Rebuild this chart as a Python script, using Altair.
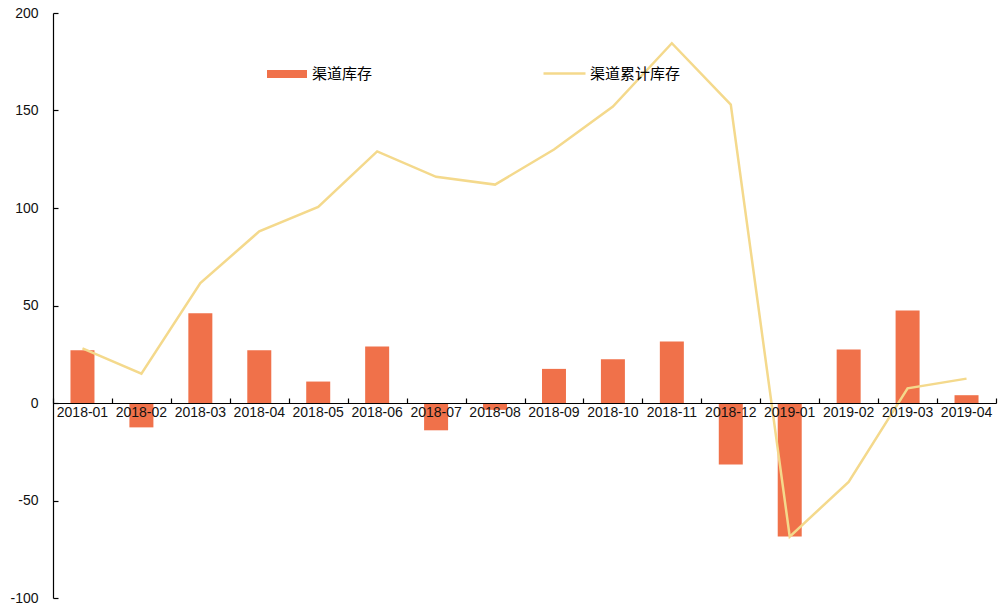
import altair as alt
import pandas as pd

months = ["2018-01", "2018-02", "2018-03", "2018-04", "2018-05", "2018-06", "2018-07", "2018-08",
          "2018-09", "2018-10", "2018-11", "2018-12", "2019-01", "2019-02", "2019-03", "2019-04"]
inventory = [27, -12.5, 46, 27, 11, 29, -14, -3.5, 17.5, 22.5, 31.5, -31.5, -68.5, 27.5, 47.5, 4]
cumulative = [28, 15, 61.5, 88, 100.5, 129, 116, 112, 130, 152, 184.5, 153, -68.5, -40.5, 7.5, 12.5]
y_ticks = [-100, -50, 0, 50, 100, 150, 200]

bar_name = "渠道库存"
line_name = "渠道累计库存"
bar_color = "#F0714A"
line_color = "#F4D98C"

df = pd.DataFrame({"month": months, "inv": inventory, "cum": cumulative,
                   "s1": bar_name, "s2": line_name})

W, H = 943, 585
font = "Liberation Sans"
cjk = "Noto Sans CJK SC"

xscale = alt.Scale(domain=months, paddingInner=0, paddingOuter=0)
yscale = alt.Scale(domain=[-100, 200], nice=False, zero=False)

bars = alt.Chart(df).mark_bar(size=24, color=bar_color).encode(
    x=alt.X("month:N", scale=xscale, sort=months,
            axis=alt.Axis(orient="bottom", offset=-195, title=None, ticks=False, tickSize=0,
                          labelAngle=0, labelFont=font, labelFontSize=14, labelColor="#111",
                          labelPadding=2, domainColor="#000", domainWidth=1.2, zindex=1,
                          labelOverlap=False)),
    y=alt.Y("inv:Q", scale=yscale,
            axis=alt.Axis(orient="left", title=None, values=y_ticks, ticks=False, tickSize=0,
                          labelPadding=15, labelFont=font, labelFontSize=14, labelColor="#111",
                          domainColor="#000", domainWidth=1.2, grid=False,
                          labelExpr="'' + datum.value")),
    fill=alt.Fill("s1:N", scale=alt.Scale(domain=[bar_name], range=[bar_color]),
                  legend=alt.Legend(title=None, orient="none", legendX=214, legendY=41,
                                    padding=0, symbolType="M-1,-0.2H1V0.2H-1Z", symbolSize=1600,
                                    symbolStrokeWidth=0, labelFont=cjk, labelFontSize=15,
                                    labelColor="#000", labelOffset=5)),
)

line = alt.Chart(df).mark_line(color=line_color, strokeWidth=2.5).encode(
    x=alt.X("month:N", scale=xscale, sort=months,
            axis=alt.Axis(orient="top", offset=-390, title=None, labels=False, domain=False,
                          ticks=True, tickSize=5, tickBand="extent", tickColor="#000",
                          tickWidth=1.2)),
    y=alt.Y("cum:Q", scale=yscale,
            axis=alt.Axis(orient="right", offset=-W, title=None, labels=False, domain=False,
                          values=y_ticks, ticks=True, tickSize=5, tickColor="#000",
                          tickWidth=1.2, grid=False)),
    stroke=alt.Stroke("s2:N", scale=alt.Scale(domain=[line_name], range=[line_color]),
                      legend=alt.Legend(title=None, orient="none", legendX=489, legendY=38,
                                        padding=0, symbolType="M-1,0H1", symbolSize=1764,
                                        symbolStrokeWidth=2.5, labelFont=cjk, labelFontSize=15,
                                        labelColor="#000", labelOffset=3)),
)

chart = alt.layer(bars, line).resolve_axis(x="independent", y="independent").resolve_scale(
    fill="independent", stroke="independent"
).properties(
    width=W, height=H,
    autosize=alt.AutoSizeParams(type="none"),
    padding={"left": 53, "top": 13, "right": 12, "bottom": 9},
).configure(background="white").configure_view(stroke=None)

chart.save("out.html", embed_options={"renderer": "svg", "actions": False})
